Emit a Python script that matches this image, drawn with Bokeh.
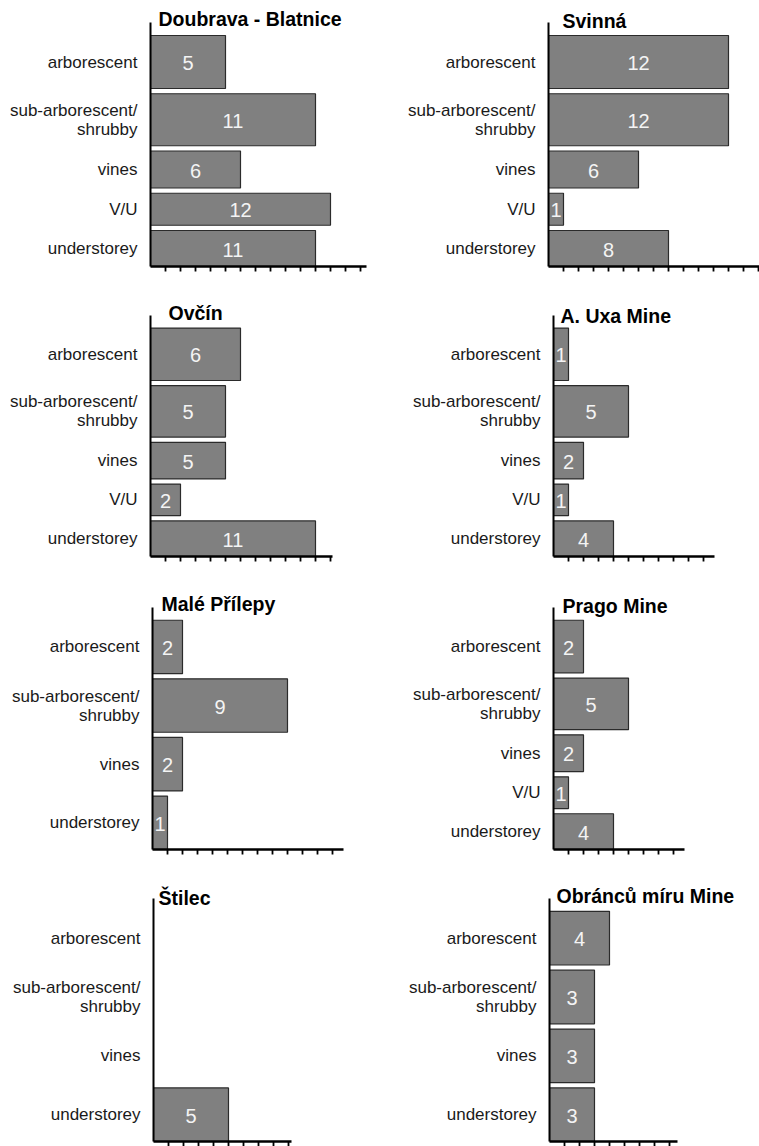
import math
from bokeh.plotting import figure
from bokeh.models import Range1d, FixedTicker, Label, ColumnDataSource
from bokeh.layouts import column, row
from bokeh.embed import file_html
from bokeh.resources import INLINE
from bokeh.core.properties import value

# ---------------- data ----------------
titles = ["Doubrava - Blatnice", "Svinná", "Ovčín", "A. Uxa Mine",
          "Malé Přílepy", "Prago Mine", "Štilec", "Obránců míru Mine"]
cats5 = ["arborescent", "sub-arborescent/\nshrubby", "vines", "V/U", "understorey"]
cats4 = ["arborescent", "sub-arborescent/\nshrubby", "vines", "understorey"]

doubrava = [5, 11, 6, 12, 11]
svinna = [12, 12, 6, 1, 8]
ovcin = [6, 5, 5, 2, 11]
uxa = [1, 5, 2, 1, 4]
male_prilepy = [2, 9, 2, 1]
prago = [2, 5, 2, 1, 4]
stilec = [0, 0, 0, 5]
obrancu = [4, 3, 3, 3]

panel_values = [doubrava, svinna, ovcin, uxa, male_prilepy, prago, stilec, obrancu]
panel_cats = [cats5, cats5, cats5, cats5, cats4, cats5, cats4, cats4]

# ---------------- layout / style ----------------
FONT = "Liberation Sans"
PX_PER_UNIT = 15
AXIS_H = 244            # height of the value area (px == y units)
EXT = 22                # extra room above the axis for the panel title
TOP_PAD = 13
GAP = 5.25
ROW_WEIGHTS = {5: [53, 52, 37, 32, 36], 4: [1, 1, 1, 1]}
AXIS_MAX = [14.4, 14.1, 12.1, 10.7, 12.7, 8.7, 9.2, 8.5]
COL_W = [398, 361]
ROW_H = [290, 292, 292, 272]
AXIS_TOP = [22, 22, 25, 22, 25, 23, 24, 24]     # axis top inside each figure (px)
BORDER_LEFT = [150, 150, 150, 155, 152, 155, 153, 151]
TITLE_DX = [8, 14, 18, 7, 9, 9, 5, 7]
TITLE_DY = [-4, -2, -2, 1, -3, -1, 0, -2]        # baseline below axis top (px)

BAR_FILL = "#808080"
BAR_LINE = "#2b2b2b"
LABEL_COLOR = "#1a1a1a"


def make_panel(i):
    cats = panel_cats[i]
    vals = panel_values[i]
    col = i % 2
    r = i // 2
    W = COL_W[col]
    H = ROW_H[r]
    mbl = BORDER_LEFT[i]
    mbt = AXIS_TOP[i] - EXT
    frame_w = W - mbl
    frame_h = AXIS_H + EXT
    mbb = H - mbt - frame_h
    xmax_axis = min(AXIS_MAX[i], frame_w / PX_PER_UNIT)

    n = len(cats)
    weights = ROW_WEIGHTS[n]
    avail = AXIS_H - TOP_PAD - GAP * (n - 1)
    tot = sum(weights)
    heights = [w / tot * avail for w in weights]
    centers = []
    cur = AXIS_H - TOP_PAD
    for h in heights:
        centers.append(cur - h / 2)
        cur = cur - h - GAP

    p = figure(width=W, height=H,
               x_range=Range1d(0, frame_w / PX_PER_UNIT),
               y_range=Range1d(0, AXIS_H + EXT),
               output_backend="svg", toolbar_location=None,
               min_border_left=mbl, min_border_right=0,
               min_border_top=mbt, min_border_bottom=mbb)
    p.outline_line_color = None
    p.xgrid.visible = False
    p.ygrid.visible = False
    p.background_fill_color = "white"
    p.border_fill_color = "white"

    idx = [k for k in range(n) if vals[k] > 0]
    src = ColumnDataSource(dict(
        y=[centers[k] for k in idx],
        h=[heights[k] for k in idx],
        v=[vals[k] for k in idx],
        xm=[vals[k] / 2 for k in idx],
        lab=[str(vals[k]) for k in idx],
    ))
    p.hbar(y="y", height="h", left=0, right="v", source=src,
           fill_color=BAR_FILL, line_color=BAR_LINE, line_width=1.2)
    p.text(x="xm", y="y", text="lab", source=src, text_font=value(FONT),
           text_font_size="20px", text_color="#f4f4f4", text_align="center",
           text_baseline="middle", y_offset=1)

    ya = p.yaxis[0]
    ya.bounds = (0, AXIS_H)
    ya.ticker = FixedTicker(ticks=centers)
    ya.major_label_overrides = {c: cats[k] for k, c in enumerate(centers)}
    ya.major_label_text_font = FONT
    ya.major_label_text_font_size = "17px"
    ya.major_label_text_line_height = 1.0
    ya.major_label_text_color = LABEL_COLOR
    ya.major_label_standoff = 7
    ya.major_tick_line_color = None
    ya.minor_tick_line_color = None
    ya.axis_line_width = 2
    ya.axis_line_color = "black"

    xa = p.xaxis[0]
    xa.bounds = (0, xmax_axis)
    xa.ticker = FixedTicker(ticks=[],
                            minor_ticks=list(range(1, int(math.floor(xmax_axis + 1e-9)) + 1)))
    xa.major_tick_line_color = None
    xa.minor_tick_out = 5
    xa.minor_tick_in = 0
    xa.minor_tick_line_width = 1.8
    xa.minor_tick_line_color = "black"
    xa.axis_line_width = 2.5
    xa.axis_line_color = "black"

    p.add_layout(Label(x=TITLE_DX[i] / PX_PER_UNIT,
                       y=AXIS_H - TITLE_DY[i],
                       text=titles[i], text_font=FONT, text_font_style="bold",
                       text_font_size="19.5px", text_color="black",
                       text_align="left", text_baseline="alphabetic"))
    return p


panels = [make_panel(i) for i in range(8)]
layout = column(*[row(panels[2 * r], panels[2 * r + 1]) for r in range(4)])

open("out.html", "w").write(file_html(layout, INLINE))
